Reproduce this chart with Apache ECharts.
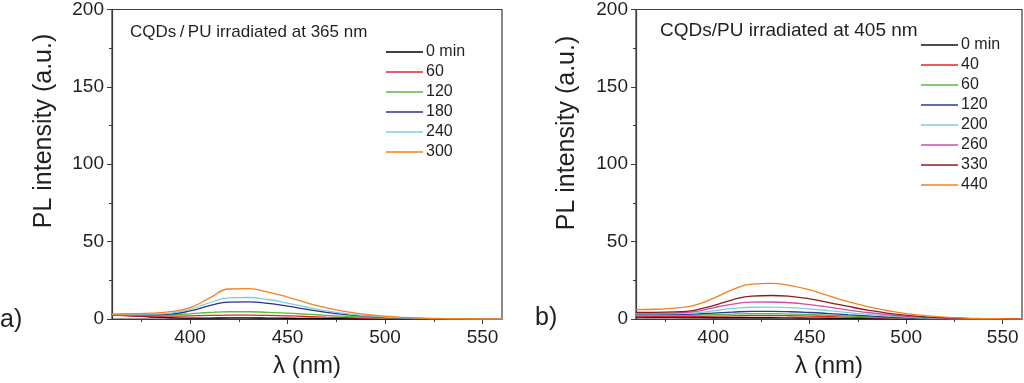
<!DOCTYPE html>
<html><head><meta charset="utf-8">
<script src="https://cdn.jsdelivr.net/npm/echarts@6/dist/echarts.min.js"></script>
<style>html,body{margin:0;padding:0;background:#fff}#c{width:1024px;height:383px}</style>
</head><body><div id="c"></div>
<script>
const wavelengths = [360,370,380,390,400,410,420,430,440,450,460,470,480,490,500,510,520,530,540,550,560];

// Panel a) CQDs/PU irradiated at 365 nm
const aNames = ['0 min','60','120','180','240','300'];
const aColors = ['#000000','#e8202a','#5db83a','#2c2f8c','#7ccfe0','#f5801e'];
const a0   = [2.5,2.0,1.3,0.8,0.6,0.6,0.7,0.7,0.6,0.5,0.4,0.3,0.2,0.1,0.1,0.05,0,0,0,0,0];
const a60  = [2.5,2.1,1.8,1.8,2.0,2.3,2.5,2.5,2.3,2.0,1.6,1.2,0.9,0.6,0.4,0.2,0.1,0.05,0,0,0];
const a120 = [2.6,2.4,2.3,2.6,3.3,4.2,4.7,4.7,4.3,3.8,3.1,2.4,1.7,1.1,0.7,0.4,0.2,0.1,0.05,0,0];
const a180 = [2.8,2.8,2.8,3.2,5.2,8.6,10.9,11.1,10.1,8.3,6.2,4.3,2.9,1.8,1.1,0.6,0.3,0.15,0.1,0.05,0];
const a240 = [3.0,3.0,3.1,3.8,6.2,10.5,13.7,13.9,12.6,10.3,7.6,5.3,3.5,2.2,1.3,0.8,0.4,0.2,0.1,0.05,0];
const a300 = [3.2,3.4,3.8,4.8,7.3,13.5,19.4,19.6,17.4,14.2,10.4,7.2,4.8,3.0,1.8,1.0,0.5,0.3,0.2,0.1,0.1];
const aSeries = [a0,a60,a120,a180,a240,a300];

// Panel b) CQDs/PU irradiated at 405 nm
const bNames = ['0 min','40','60','120','200','260','330','440'];
const bColors = ['#111111','#e8202a','#5db83a','#2c3a94','#7ccfe0','#cc4fa8','#8b1c1c','#f5801e'];
const b0   = [1.2,1.1,1.0,0.9,0.8,0.8,0.8,0.8,0.7,0.6,0.5,0.4,0.3,0.2,0.1,0.05,0,0,0,0,0];
const b40  = [1.8,1.7,1.6,1.6,1.8,2.0,2.2,2.2,2.1,1.9,1.6,1.2,0.9,0.6,0.4,0.2,0.1,0.05,0,0,0];
const b60  = [2.4,2.3,2.3,2.4,2.8,3.2,3.4,3.4,3.2,2.9,2.4,1.9,1.4,0.9,0.6,0.3,0.15,0.1,0,0,0];
const b120 = [3.0,3.0,3.0,3.2,3.8,4.5,4.9,4.9,4.7,4.2,3.5,2.7,2.0,1.3,0.8,0.5,0.25,0.1,0.05,0,0];
const b200 = [3.4,3.4,3.5,3.9,5.3,6.8,7.6,7.7,7.3,6.5,5.4,4.1,3.0,2.0,1.2,0.7,0.35,0.2,0.1,0.05,0];
const b260 = [3.8,3.8,4.0,4.8,7.2,9.6,10.9,11.0,10.5,9.3,7.7,5.8,4.2,2.8,1.7,1.0,0.5,0.25,0.1,0.05,0];
const b330 = [4.3,4.3,4.6,5.6,8.7,12.4,14.8,15.2,14.6,13.0,10.6,8.1,5.8,3.8,2.4,1.4,0.8,0.4,0.2,0.1,0];
const b440 = [6.0,6.3,7.0,8.8,13.3,19.0,22.5,23.0,21.6,18.8,14.9,11.2,8.0,5.5,3.5,2.2,1.2,0.6,0.3,0.2,0.1];
const bSeries = [b0,b40,b60,b120,b200,b260,b330,b440];

const xTicks = [400,450,500,550];
const xMinorTicks = [375,425,475,525];
const yTicks = [0,50,100,150,200];

const FONT = 'Liberation Sans, Arial, sans-serif';
const TXT = '#231f20';
const AX = '#3a3a3a';

function pairs(arr){ return wavelengths.map((w,i)=>[w,arr[i]]); }

function xAxisFor(gi){
  return {
    gridIndex: gi, type:'value', min:360, max:560,
    name:'λ (nm)', nameLocation:'middle', nameGap:35,
    nameTextStyle:{fontFamily:FONT,fontSize:24,color:TXT},
    axisLine:{show:true,onZero:false,lineStyle:{color:AX,width:1.2}},
    axisTick:{show:true,inside:false,length:5,lineStyle:{color:AX},customValues:xTicks},
    axisLabel:{fontFamily:FONT,fontSize:19,color:TXT,margin:9,customValues:xTicks},
    splitLine:{show:false}
  };
}
function xMinorAxisFor(gi){
  return {
    gridIndex: gi, type:'value', min:360, max:560, position:'bottom',
    axisLine:{show:false,onZero:false},
    axisTick:{show:true,inside:false,length:3,lineStyle:{color:AX},customValues:xMinorTicks},
    axisLabel:{show:false},
    splitLine:{show:false}
  };
}
function yAxisFor(gi){
  return {
    gridIndex: gi, type:'value', min:0, max:200, interval:50,
    axisLine:{show:true,onZero:false,lineStyle:{color:AX,width:1.2}},
    axisTick:{show:true,inside:false,length:5,lineStyle:{color:AX}},
    minorTick:{show:true,splitNumber:2,length:3,lineStyle:{color:AX}},
    axisLabel:{fontFamily:FONT,fontSize:19,color:TXT,margin:8,customValues:yTicks},
    splitLine:{show:false}
  };
}

const series = [];
aSeries.forEach((d,i)=>series.push({name:'a:'+aNames[i],type:'line',xAxisIndex:0,yAxisIndex:0,
  data:pairs(d),smooth:true,symbol:'none',lineStyle:{width:1.3,color:aColors[i]},itemStyle:{color:aColors[i]},z:2+i}));
bSeries.forEach((d,i)=>series.push({name:'b:'+bNames[i],type:'line',xAxisIndex:1,yAxisIndex:1,
  data:pairs(d),smooth:true,symbol:'none',lineStyle:{width:1.3,color:bColors[i]},itemStyle:{color:bColors[i]},z:2+i}));

function legendFor(prefix,names,left,top){
  return {
    orient:'vertical', left:left, top:top, icon:'rect', itemWidth:37, itemHeight:1.5,
    itemGap:4, selectedMode:false,
    data:names.map(n=>prefix+n),
    formatter:n=>n.slice(2),
    textStyle:{fontFamily:FONT,fontSize:16,color:TXT,padding:[0,0,0,-2]}
  };
}

const chart = echarts.init(document.getElementById('c'),null,{renderer:'canvas'});
chart.setOption({
  animation:false,
  backgroundColor:'#ffffff',
  grid:[
    {left:112,top:8.5,width:390,height:312.5,show:true,borderColor:AX,borderWidth:1.2,backgroundColor:'transparent'},
    {left:636,top:9,width:386,height:310,show:true,borderColor:AX,borderWidth:1.2,backgroundColor:'transparent'}
  ],
  xAxis:[xAxisFor(0),xAxisFor(1),xMinorAxisFor(0),xMinorAxisFor(1)],
  yAxis:[yAxisFor(0),yAxisFor(1)],
  legend:[legendFor('a:',aNames,381,39),legendFor('b:',bNames,916,32)],
  series:series,
  graphic:[
    {type:'text',x:44,y:131,rotation:Math.PI/2,style:{text:'PL intensity (a.u.)',font:'25px '+FONT,fill:TXT,align:'center',verticalAlign:'middle'}},
    {type:'text',x:567,y:133,rotation:Math.PI/2,style:{text:'PL intensity (a.u.)',font:'25px '+FONT,fill:TXT,align:'center',verticalAlign:'middle'}},
    {type:'text',x:0,y:320,style:{text:'a)',font:'25px '+FONT,fill:TXT,align:'left',verticalAlign:'middle'}},
    {type:'text',x:535,y:318,style:{text:'b)',font:'25px '+FONT,fill:TXT,align:'left',verticalAlign:'middle'}},
    {type:'text',x:130,y:32,style:{text:'CQDs\u2009/\u2009PU irradiated at 365 nm',font:'17px '+FONT,fill:TXT,align:'left',verticalAlign:'middle'}},
    {type:'text',x:660,y:31,style:{text:'CQDs/PU irradiated at 405 nm',font:'19px '+FONT,fill:TXT,align:'left',verticalAlign:'middle'}}
  ]
});
</script></body></html>
